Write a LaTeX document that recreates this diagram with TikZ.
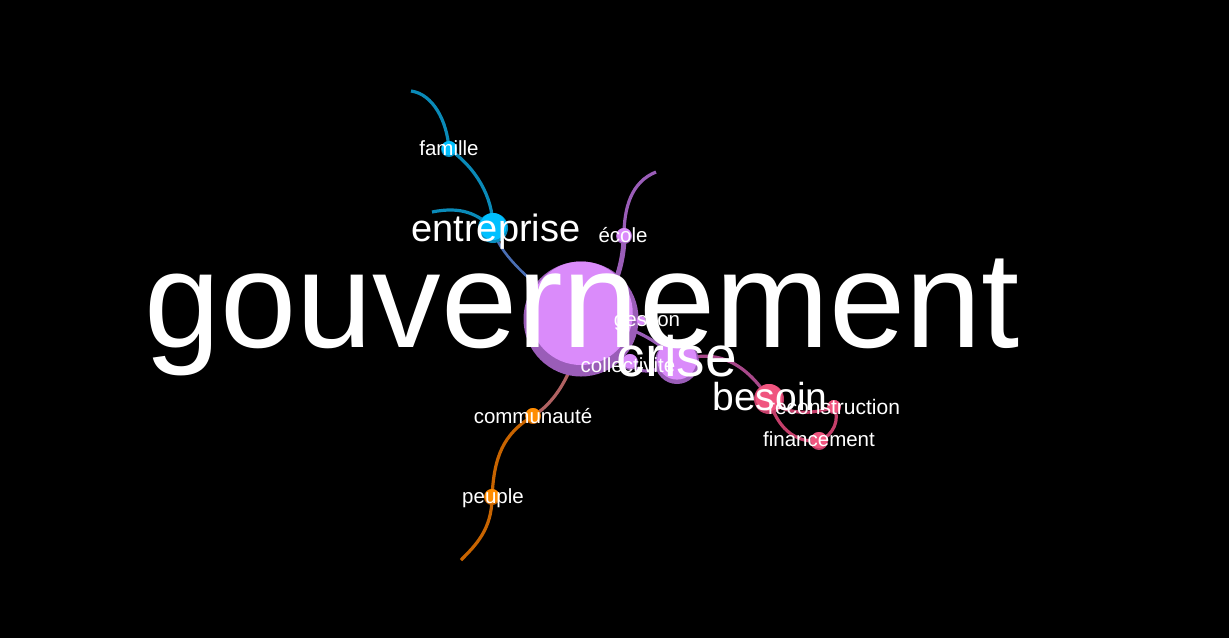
\documentclass[tikz,border=0pt]{standalone}
\usepackage{fontspec}
\setmainfont{Liberation Sans}
\usetikzlibrary{calc}
\pgfdeclarelayer{bg}
\pgfdeclarelayer{edges}
\pgfsetlayers{bg,edges,main}
\definecolor{vioD}{HTML}{9A5DB8}
\definecolor{vioL}{HTML}{DA8BFA}
\definecolor{cyaD}{HTML}{0A8FC0}
\definecolor{cyaL}{HTML}{00C0FF}
\definecolor{oraD}{HTML}{C86400}
\definecolor{oraL}{HTML}{FF8C00}
\definecolor{pinD}{HTML}{C43F6A}
\definecolor{pinL}{HTML}{F0557F}
\definecolor{eBlue}{HTML}{0A8AB8}
\definecolor{eSteel}{HTML}{4A6FB5}
\definecolor{eRose}{HTML}{B06262}
\definecolor{eMag}{HTML}{A8488A}
\newcommand\mkball[5]{%
  \node[circle, inner sep=0pt, minimum size=2*#3, fill=#4] (#1) at (#2) {};
  \fill[#5] ($(#1.center)+(0,-0.1*#3)$) circle ({0.9*#3});}
\tikzset{
  lbl/.style={text=white, inner sep=0pt, anchor=base},
  small/.style={lbl, font=\fontsize{20.5}{20.5}\selectfont},
  edge/.style={line width=3.2pt},
}
\begin{document}
\begin{tikzpicture}[x=1pt,y=-1pt]
\begin{pgfonlayer}{bg}
\fill[black] (0,0) rectangle (1229,638);
\end{pgfonlayer}
\useasboundingbox (0,0) rectangle (1229,638);
% balls
\mkball{ngouv}{581,319}{57.5}{vioD}{vioL}
\mkball{ncrise}{677,362}{22}{vioD}{vioL}
\mkball{ncoll}{630,362}{8}{vioD}{vioL}
\mkball{nges}{641,321}{5}{vioD}{vioL}
\mkball{necole}{624,236}{8}{vioD}{vioL}
\mkball{nent}{493,228}{15}{cyaD}{cyaL}
\mkball{nfam}{449,149}{8}{cyaD}{cyaL}
\mkball{ncomm}{533,416}{8}{oraD}{oraL}
\mkball{npeu}{492,497}{8}{oraD}{oraL}
\mkball{nbes}{769,399}{15}{pinD}{pinL}
\mkball{nrec}{834,407}{7}{pinD}{pinL}
\mkball{nfin}{819,441}{9}{pinD}{pinL}
% free ends
\coordinate (e1) at (411,91);
\coordinate (e2) at (432,212);
\coordinate (e3) at (656,172);
\coordinate (e4) at (461,560);
% edges
\begin{pgfonlayer}{edges}
\draw[edge, eBlue] (e1) .. controls +(22,3) and +(-2,-28) .. (nfam.center);
\draw[edge, eBlue] (nfam.center) .. controls +(26,18) and +(0,-32) .. (nent.center);
\draw[edge, eBlue] (e2) .. controls +(30,-6) and +(-16,-14) .. (nent.center);
\draw[line width=2.6pt, eSteel] (nent.center) .. controls +(6,32) and +(-30,-22) .. (ngouv.center);
\draw[edge, vioD] (e3) .. controls +(-25,10) and +(0,-28) .. (necole.center);
\draw[line width=5pt, vioD] (necole.center) .. controls +(0,30) and +(30,-10) .. (ngouv.center);
\draw[edge, eRose] (ngouv.center) .. controls +(-2,45) and +(25,-15) .. (ncomm.center);
\draw[edge, oraD] (ncomm.center) .. controls +(-30,18) and +(2,-40) .. (npeu.center);
\draw[edge, oraD] (npeu.center) .. controls +(0,32) and +(15,-15) .. (e4);
\draw[edge, vioD] (ngouv.center) .. controls +(45,2) and +(-15,-20) .. (ncrise.center);
\draw[edge, vioD] (ncoll.center) .. controls +(10,14) and +(-25,10) .. (ncrise.center);
\draw[edge, eMag] (ncrise.center) .. controls +(45,-18) and +(-18,-28) .. (nbes.center);
\draw[edge, pinD] (nbes.center) .. controls +(15,16) and +(-22,8) .. (nrec.center);
\draw[edge, pinD] (nbes.center) .. controls +(8,28) and +(-25,2) .. (nfin.center);
\draw[edge, pinD] (nfin.center) .. controls +(15,-6) and +(6,12) .. (nrec.center);
\end{pgfonlayer}
% labels
\node[lbl, font=\fontsize{137}{137}\selectfont] (tgouv) at (582,347) {gouvernement};
\node[lbl, font=\fontsize{38}{38}\selectfont] (tent) at (496,241) {entreprise};
\node[lbl, font=\fontsize{57}{57}\selectfont] (tcrise) at (677,376) {crise};
\node[lbl, font=\fontsize{39}{39}\selectfont] (tbes) at (770,410) {besoin};
\node[small] (tfam) at (449,155) {famille};
\node[small] (tecole) at (623,242) {école};
\node[small] (tges) at (647,326) {gestion};
\node[small] (tcoll) at (628,372) {collectivité};
\node[small] (tcomm) at (533,423) {communauté};
\node[small] (tpeu) at (493,503) {peuple};
\node[small, font=\fontsize{21}{21}\selectfont] (trec) at (834,414) {reconstruction};
\node[small] (tfin) at (819,446) {financement};
\end{tikzpicture}
\end{document}
